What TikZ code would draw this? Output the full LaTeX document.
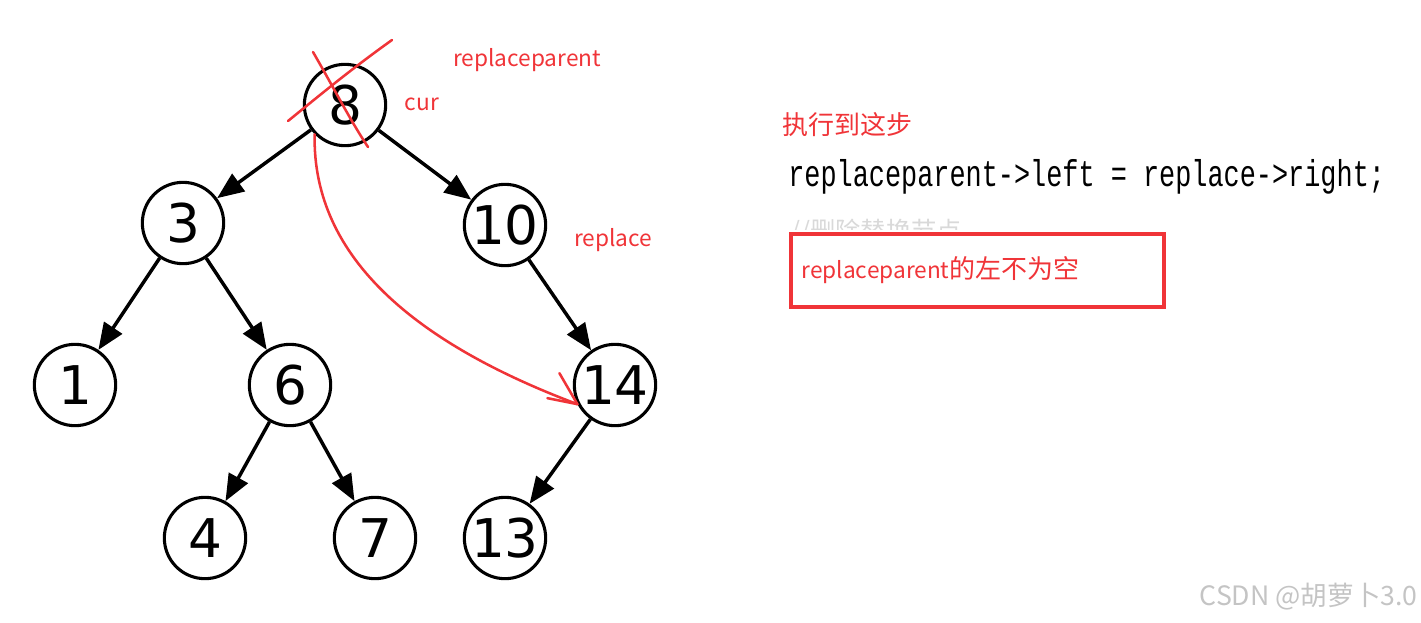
\documentclass[tikz,border=0pt]{standalone}
\usepackage{graphicx}
\usepackage{fontspec}
\setsansfont{DejaVu Sans}
\newfontfamily\cjkfont{Noto Sans CJK SC}
\newfontfamily\codefont{Liberation Mono}
\usetikzlibrary{arrows.meta, positioning}
\definecolor{penred}{RGB}{240,52,56}
\definecolor{markgray}{RGB}{196,196,196}
\newcommand{\hanzi}[1]{{\fontsize{19.5}{19.5}\selectfont #1}}

\begin{document}
\begin{tikzpicture}[x=0.75pt, y=-0.75pt,
    treenode/.style={circle, draw, line width=2.3pt, minimum size=61pt, inner sep=0pt, font=\sffamily\fontsize{40}{40}\selectfont},
    edge/.style={line width=2.6pt, -{Triangle[length=20pt, width=16pt]}},
    tag/.style={text=penred, inner sep=0pt, font=\cjkfont\fontsize{17}{17}\selectfont},
    pen/.style={draw=penred, line width=1.9pt, line cap=round, line join=round}
]
    \useasboundingbox (0,0) rectangle (1421,622);

    % Tree
    \node[treenode] (n8) at (345,105) {8};
    \node[treenode] (n3) at (183,223) {3};
    \node[treenode] (n10) at (505,225) {10};
    \node[treenode] (n1) at (75,385) {1};
    \node[treenode] (n6) at (290,385) {6};
    \node[treenode] (n14) at (615,385) {14};
    \node[treenode] (n4) at (205,538) {4};
    \node[treenode] (n7) at (375,538) {7};
    \node[treenode] (n13) at (505,538) {13};

    % Arrows
    \draw[edge] (n8) -- (n3);
    \draw[edge] (n8) -- (n10);
    \draw[edge] (n3) -- (n1);
    \draw[edge] (n3) -- (n6);
    \draw[edge] (n6) -- (n4);
    \draw[edge] (n6) -- (n7);
    \draw[edge] (n10) -- (n14);
    \draw[edge] (n14) -- (n13);

    % Red marks
    \node[tag] (parentlabel) at (527,60) {replaceparent};
    \node[tag] (curlabel) at (422,104) {cur};
    \node[tag] (replacelabel) at (613,240) {replace};
    \draw[pen] (313,52) .. controls (335,90) and (350,120) .. (368,147);
    \draw[pen] (288,121) .. controls (320,95) and (350,70) .. (392,40);
    \draw[pen] (n8.224) .. controls (312,260) and (420,345) .. (n14.207);
    \draw[pen] (n14.207) -- ++(-18,-31);
    \draw[pen] (n14.207) -- ++(-30,-6);

    % Code and note
    \node[tag, anchor=west] (steplabel) at (782,125) {\hanzi{执行到这步}};
    \node[anchor=base west, inner sep=0pt] (code) at (788,186)
        {\codefont\fontsize{28}{28}\selectfont\scalebox{0.72}[1]{replaceparent->left = replace->right;}};
    \begin{scope}
        \clip (785,209) rectangle (1000,229);
        \node[anchor=base west, inner sep=0pt, text=gray!30, font=\cjkfont\fontsize{19}{19}\selectfont] (oldnote) at (790,240) {//删除替换节点};
    \end{scope}
    \node[draw=penred, line width=2.5pt, minimum width=279.75pt, minimum height=54.75pt] (box) at (977.5,270.5) {};
    \node[tag, right=9pt of box.west] (boxlabel) {replaceparent\hanzi{的左不为空}};

    % Watermark
    \node[anchor=east, inner sep=0pt, text=markgray, font=\cjkfont\fontsize{20}{20}\selectfont] (mark) at (1418,597) {CSDN @胡萝卜3.0};
\end{tikzpicture}
\end{document}
